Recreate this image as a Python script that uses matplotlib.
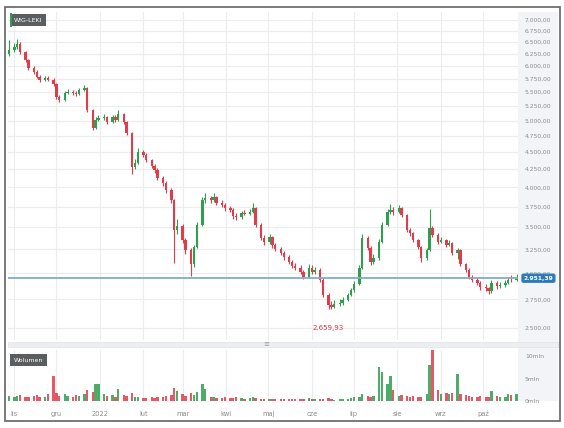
import matplotlib
matplotlib.use("Agg")
import matplotlib.pyplot as plt
import matplotlib.dates as mdates
from matplotlib.patches import Rectangle
import pandas as pd

# WIG-LEKI, swiece co 2 sesje (paz 2021 - paz 2022)
start_date = "2021-10-28"
first_open = 6250.0
closes = [6330, 6390, 6460, 6290, 6120, 5960, 5886, 5790, 5730, 5768,
          5730, 5650, 5414, 5360, 5490, 5505, 5490, 5470, 5542, 5580,
          5184, 4880, 5013, 5047, 5064, 4975, 5064, 5013, 5115, 4975,
          4800, 4284, 4342, 4505, 4459, 4386, 4300, 4241, 4130, 4061,
          3967, 3837, 3470, 3520, 3356, 3246, 3095, 3279, 3530, 3837,
          3862, 3837, 3875, 3798, 3773, 3735, 3710, 3636, 3624, 3673,
          3660, 3686, 3735, 3530, 3380, 3334, 3390, 3301, 3257, 3214,
          3171, 3118, 3077, 3056, 3016, 2966, 3056, 3016, 3030, 2936,
          2793, 2701, 2683, 2710, 2719, 2747, 2793, 2840, 2898, 3056,
          3380, 3268, 3118, 3160, 3334, 3530, 3686, 3710, 3686, 3735,
          3649, 3470, 3436, 3356, 3279, 3160, 3246, 3490, 3413, 3334,
          3356, 3301, 3323, 3214, 3240, 3097, 3036, 2966, 2936, 2907,
          2868, 2857, 2830, 2907, 2878, 2888, 2907, 2936, 2930, 2951.39]
highs = [6550, 6480, 6560, 6500, 6320, 6150, 6000, 5920, 5830, 5810,
         5800, 5760, 5670, 5440, 5520, 5560, 5540, 5520, 5580, 5640,
         5600, 5200, 5060, 5090, 5110, 5080, 5100, 5090, 5180, 5130,
         4990, 4820, 4400, 4560, 4530, 4480, 4400, 4320, 4260, 4150,
         4080, 3990, 3850, 3600, 3540, 3380, 3260, 3300, 3560, 3870,
         3920, 3890, 3930, 3890, 3830, 3800, 3760, 3730, 3670, 3700,
         3710, 3720, 3800, 3750, 3550, 3410, 3420, 3400, 3320, 3280,
         3230, 3190, 3140, 3100, 3080, 3030, 3090, 3080, 3060, 3050,
         2950, 2810, 2730, 2740, 2750, 2770, 2810, 2860, 2920, 3080,
         3420, 3400, 3290, 3200, 3360, 3560, 3720, 3780, 3740, 3770,
         3750, 3660, 3490, 3450, 3370, 3290, 3270, 3720, 3520, 3430,
         3390, 3370, 3350, 3330, 3270, 3250, 3110, 3050, 2980, 2950,
         2920, 2890, 2870, 2930, 2920, 2910, 2930, 2960, 2980, 2990]
lows = [6200, 6280, 6360, 6250, 6080, 5920, 5850, 5760, 5690, 5700,
        5700, 5610, 5380, 5320, 5340, 5460, 5450, 5430, 5450, 5520,
        5150, 4840, 4860, 4990, 5010, 4940, 4960, 4980, 5000, 4950,
        4760, 4180, 4250, 4320, 4420, 4350, 4270, 4200, 4100, 4020,
        3930, 3790, 3108, 3420, 3320, 3200, 2970, 3060, 3260, 3510,
        3800, 3800, 3810, 3770, 3740, 3700, 3680, 3600, 3590, 3600,
        3640, 3640, 3670, 3500, 3350, 3300, 3310, 3270, 3230, 3190,
        3140, 3090, 3050, 3030, 2990, 2940, 2950, 2990, 2990, 2910,
        2770, 2659.93, 2665, 2670, 2690, 2700, 2730, 2780, 2820, 2880,
        3040, 3240, 3080, 3090, 3140, 3320, 3510, 3660, 3650, 3670,
        3620, 3440, 3400, 3330, 3250, 3120, 3140, 3230, 3390, 3310,
        3320, 3280, 3290, 3190, 3150, 3070, 3010, 2940, 2910, 2880,
        2840, 2830, 2800, 2810, 2850, 2860, 2870, 2890, 2910, 2920]
# wolumen w mln
volumes = [1.2, 0.9, 1.1, 1.3, 1.0, 0.8, 1.1, 1.4, 1.0, 0.9,
           1.5, 5.6, 1.8, 1.2, 1.6, 1.1, 1.0, 1.3, 1.2, 1.6,
           2.4, 2.0, 3.9, 3.8, 1.5, 1.1, 1.3, 0.9, 2.7, 1.4,
           1.2, 1.7, 0.8, 0.9, 0.6, 0.7, 0.8, 0.6, 0.9, 1.0,
           1.1, 1.3, 2.8, 2.2, 1.5, 1.2, 1.9, 1.4, 2.0, 3.9,
           2.6, 1.0, 0.8, 0.7, 0.6, 0.8, 0.6, 0.7, 0.9, 0.6,
           0.5, 0.6, 1.0, 0.6, 0.4, 0.5, 0.4, 0.5, 0.4, 0.5,
           0.4, 0.5, 0.4, 0.5, 0.4, 0.5, 0.6, 0.4, 0.5, 0.5,
           0.5, 0.6, 0.4, 0.3, 0.4, 0.5, 0.4, 0.6, 0.8, 1.0,
           1.6, 1.2, 0.9, 1.1, 7.5, 6.4, 3.8, 5.7, 2.5, 1.2,
           1.4, 1.1, 1.0, 1.2, 0.9, 1.0, 1.5, 8.0, 11.6, 2.4,
           1.6, 1.9, 1.5, 1.7, 6.1, 1.5, 1.4, 1.2, 1.0, 0.9,
           1.1, 0.8, 1.0, 2.3, 1.2, 0.9, 1.0, 1.6, 1.3, 1.5]

month_labels = ['lis', 'gru', '2022', 'lut', 'mar', 'kwi', 'maj', 'cze',
                'lip', 'sie', 'wrz', 'paź']
price_ticks = [2500, 2750, 3000, 3250, 3500, 3750, 4000, 4250, 4500, 4750,
               5000, 5250, 5500, 5750, 6000, 6250, 6500, 6750, 7000]
vol_ticks = [0, 5, 10]

dates = pd.bdate_range(start_date, periods=len(closes), freq='2B')
opens = [first_open] + closes[:-1]
last_price = closes[-1]
min_idx = lows.index(min(lows))

W, H = 564, 428
GREEN = '#2f9e4f'
RED = '#e23b4a'
GRID = '#ececec'
TXT = '#8a8a8a'


def box(l, t, r, b):
    return [l / W, 1 - b / H, (r - l) / W, (b - t) / H]


def pl_fmt(v):
    s = f"{v:,.2f}"
    return s.replace(',', ' ').replace('.', ',').replace(' ', '.')


fig = plt.figure(figsize=(W / 100, H / 100), dpi=100)
fig.patch.set_facecolor('white')

# pasek osi po prawej (pod osiami)
fig.patches.append(Rectangle((518 / W, 1 - 401 / H), 40 / W, 389 / H,
                             transform=fig.transFigure, facecolor='#f3f4f7',
                             edgecolor='none', zorder=-5))

ax = fig.add_axes(box(8, 12, 518, 340))
axv = fig.add_axes(box(8, 350, 518, 401), sharex=ax)

cols = [GREEN if c >= o else RED for o, c in zip(opens, closes)]
body_lo = [min(o, c) for o, c in zip(opens, closes)]
body_h = [max(abs(c - o), 4) for o, c in zip(opens, closes)]

ax.vlines(dates, lows, highs, colors=cols, lw=0.8, zorder=3)
ax.bar(dates, body_h, bottom=body_lo, width=1.7, color=cols, lw=0, zorder=4)

ax.set_yscale('log')
ax.set_ylim(2400, 7190)
ax.set_xlim(pd.Timestamp('2021-10-27 12:00'), pd.Timestamp('2022-10-26'))
ax.set_yticks(price_ticks)
ax.set_yticklabels([pl_fmt(v) for v in price_ticks])
ax.yaxis.set_minor_locator(plt.NullLocator())
ax.yaxis.tick_right()
ax.tick_params(axis='y', length=0, pad=5, labelsize=4.3, labelcolor=TXT)
ax.tick_params(axis='x', length=0, labelbottom=False)
ax.xaxis.set_major_locator(mdates.MonthLocator())
ax.grid(True, color=GRID, lw=0.8, zorder=0)
for s in ax.spines.values():
    s.set_visible(False)

# ostatni kurs
ax.axhline(last_price, color='#7eaec6', lw=1.3, zorder=5)
ax.annotate(pl_fmt(last_price), xy=(1, last_price),
            xycoords=('axes fraction', 'data'), xytext=(4, 0),
            textcoords='offset points', va='center', ha='left',
            fontsize=4.3, color='white', fontweight='bold',
            bbox=dict(boxstyle='round,pad=0.25', fc='#2b7bb9', ec='#2b7bb9'),
            annotation_clip=False, zorder=6)

# minimum
ax.annotate(pl_fmt(lows[min_idx]), xy=(dates[min_idx], lows[min_idx]),
            xytext=(0, -19), textcoords='offset pixels', ha='center',
            va='center', fontsize=5, color='#d9343f')

# wolumen
axv.bar(dates, volumes, width=1.7, color=cols, alpha=0.85, lw=0, zorder=3)
axv.set_ylim(0, 11.4)
axv.set_yticks(vol_ticks)
axv.set_yticklabels([f"{v}mln" for v in vol_ticks])
axv.yaxis.tick_right()
axv.tick_params(axis='y', length=0, pad=5, labelsize=4.3, labelcolor=TXT)
axv.tick_params(axis='x', length=0, pad=7, labelsize=4.8, labelcolor=TXT)
axv.grid(True, axis='x', color=GRID, lw=0.8, zorder=0)
for s in axv.spines.values():
    s.set_visible(False)
month_pos = mdates.date2num(pd.date_range('2021-11-01', periods=len(month_labels), freq='MS'))
axv.set_xticks(month_pos)
axv.set_xticklabels(month_labels)

# separator
fig.patches.append(Rectangle((8 / W, 1 - 347 / H), 550 / W, 5 / H,
                             transform=fig.transFigure, facecolor='#eceef1',
                             edgecolor='#e0e2e6', lw=0.5, zorder=1))
fig.text(266 / W, 1 - 344.5 / H, '≡', ha='center', va='center',
         fontsize=5, color='#9a9a9a')

# etykiety paneli
fig.text(14 / W, 1 - 20 / H, 'WIG-LEKI', ha='left', va='center', fontsize=4.5,
         color='white', bbox=dict(boxstyle='square,pad=0.6', fc='#5b5e60', ec='none'))
fig.patches.append(Rectangle((9.5 / W, 1 - 27 / H), 2 / W, 14 / H,
                             transform=fig.transFigure, facecolor=GREEN,
                             edgecolor='none', zorder=5))
fig.text(14 / W, 1 - 360 / H, 'Wolumen', ha='left', va='center', fontsize=4.5,
         color='white', bbox=dict(boxstyle='square,pad=0.6', fc='#5b5e60', ec='none'))

# ramka
fig.patches.append(Rectangle((5 / W, 1 - 421 / H), 555 / W, 414 / H,
                             transform=fig.transFigure, fill=False,
                             edgecolor='#707070', lw=1.3, zorder=10))

fig.savefig('out.png', dpi=100)
